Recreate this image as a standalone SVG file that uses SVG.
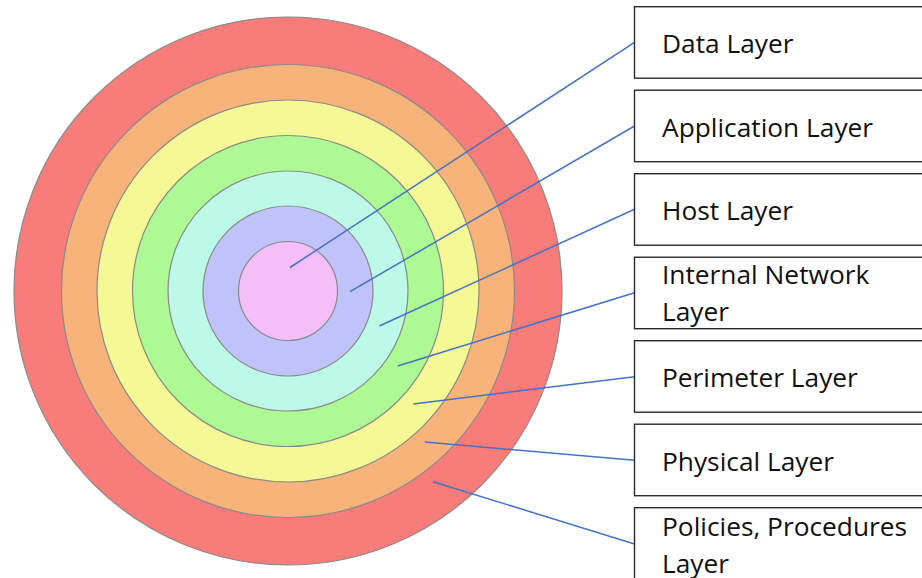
<svg xmlns="http://www.w3.org/2000/svg" width="922" height="578" viewBox="0 0 922 578">
<style>
.ring{stroke:#8a8a8a;stroke-width:1.2}
.box rect{fill:#fff;stroke:#2a2a2a;stroke-width:1.4}
.box text{font-family:"Open Sans","Noto Sans",sans-serif;font-size:26.3px;fill:#111}
#connectors line{stroke:#4472C4;stroke-width:1.5}
</style>
<rect width="922" height="578" fill="#fff"/>
<g id="rings">
<circle id="policies-ring" class="ring" cx="288" cy="291" r="274" fill="#F87C7A"/>
<circle id="physical-ring" class="ring" cx="288" cy="291" r="226.5" fill="#F7B37A"/>
<circle id="perimeter-ring" class="ring" cx="288" cy="291" r="191" fill="#F4F996"/>
<circle id="internal-ring" class="ring" cx="288" cy="291" r="155.5" fill="#ADF993"/>
<circle id="host-ring" class="ring" cx="288" cy="291" r="120" fill="#BDF9E7"/>
<circle id="application-ring" class="ring" cx="288" cy="291" r="85" fill="#C0C3F9"/>
<circle id="data-ring" class="ring" cx="288" cy="291" r="49.5" fill="#F4BEF9"/>
</g>
<g id="connectors">
<line x1="290" y1="267.5" x2="634.5" y2="42.3"/>
<line x1="350" y1="291.7" x2="634.5" y2="126"/>
<line x1="379.3" y1="326" x2="634.5" y2="209.3"/>
<line x1="397.7" y1="366" x2="634.5" y2="292.7"/>
<line x1="413.3" y1="404" x2="634.5" y2="376.7"/>
<line x1="425" y1="442" x2="634.5" y2="460.3"/>
<line x1="433" y1="481.7" x2="634.5" y2="544"/>
</g>
<g id="data-layer" class="box"><rect x="634.5" y="6.7" width="300" height="71.5"/><text x="662" y="53">Data Layer</text></g>
<g id="application-layer" class="box"><rect x="634.5" y="90.2" width="300" height="71.5"/><text x="662" y="136.5">Application Layer</text></g>
<g id="host-layer" class="box"><rect x="634.5" y="173.7" width="300" height="71.5"/><text x="662" y="220">Host Layer</text></g>
<g id="internal-network-layer" class="box"><rect x="634.5" y="257.2" width="300" height="71.5"/><text x="662" y="284.3">Internal Network</text><text x="662" y="320.8">Layer</text></g>
<g id="perimeter-layer" class="box"><rect x="634.5" y="340.7" width="300" height="71.5"/><text x="662" y="387">Perimeter Layer</text></g>
<g id="physical-layer" class="box"><rect x="634.5" y="424.2" width="300" height="71.5"/><text x="662" y="470.5">Physical Layer</text></g>
<g id="policies-layer" class="box"><rect x="634.5" y="507.7" width="300" height="71.5"/><text x="662" y="536">Policies, Procedures</text><text x="662" y="572.5">Layer</text></g>
</svg>
